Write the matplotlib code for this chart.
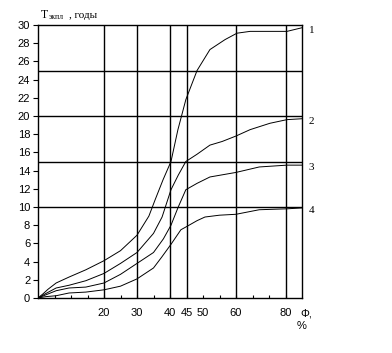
import matplotlib
matplotlib.use("Agg")
import matplotlib.pyplot as plt
import numpy as np

# x axis is a stretched scale: tick value -> evenly spaced position
PHI_KNOTS = [0, 20, 30, 40, 45, 50, 60, 80, 86.7]
POS_KNOTS = [0, 4, 6, 8, 9, 10, 12, 15, 16]

X_TICKS = [20, 30, 40, 45, 50, 60, 80]
X_GRID = [20, 30, 40, 45, 60, 80]
Y_TICKS = list(range(0, 31, 2))
Y_GRID = [10, 15, 20, 25]

# curves: Phi (%) and T (years)
phi_1 = [0, 1.5, 3.0, 5.5, 9.4, 14.5, 20, 25, 30, 33.6, 35.5, 37.9, 40.3, 42.4, 44.8,
         48.2, 52.1, 56.7, 60.4, 65.7, 80.6, 86.7]
t_1 = [0, 0.45, 0.95, 1.65, 2.3, 3.1, 4.1, 5.2, 6.9, 9.0, 10.8, 13.0, 15.0, 18.5, 21.8,
       25.0, 27.3, 28.4, 29.1, 29.3, 29.3, 29.7]

phi_2 = [0, 2.4, 5.5, 9.4, 14.5, 20, 25, 30, 35, 37.6, 40.3, 42.5, 44.8, 48.2, 52.1,
         55.8, 60, 65.7, 73.7, 80.6, 86.7]
t_2 = [0, 0.5, 1.1, 1.4, 1.9, 2.7, 3.8, 5.0, 7.1, 8.9, 11.9, 13.5, 15.0, 15.8, 16.8,
       17.2, 17.8, 18.5, 19.2, 19.6, 19.7]

phi_3 = [0, 2.4, 5.5, 9.4, 14.5, 20, 25, 30, 35, 38, 40.3, 42.5, 44.8, 48.2, 52.1,
         60, 69.4, 80.6, 86.7]
t_3 = [0, 0.35, 0.8, 1.1, 1.2, 1.65, 2.6, 3.8, 5.0, 6.5, 8.0, 10.0, 11.9, 12.6, 13.3,
       13.8, 14.4, 14.6, 14.6]

phi_4 = [0, 2.4, 5.5, 9.4, 14.5, 20, 25, 30, 35, 37.5, 40.3, 43.3, 44.8, 48.2, 50.6,
         55, 60, 69.4, 80.6, 86.7]
t_4 = [0, 0.15, 0.25, 0.55, 0.65, 0.9, 1.3, 2.1, 3.3, 4.5, 5.9, 7.5, 7.8, 8.5, 8.9,
       9.1, 9.2, 9.7, 9.8, 9.9]

curves = [("1", phi_1, t_1), ("2", phi_2, t_2), ("3", phi_3, t_3), ("4", phi_4, t_4)]


def to_pos(phi):
    return np.interp(phi, PHI_KNOTS, POS_KNOTS)


SANS = ["Liberation Sans", "DejaVu Sans"]
SERIF = ["Liberation Serif", "DejaVu Serif"]

fig = plt.figure(figsize=(3.92, 3.53), dpi=100)
ax = fig.add_axes([38 / 392, 1 - 298 / 353, 264 / 392, 273 / 353])

for x in X_GRID:
    ax.axvline(to_pos(x), color="black", linewidth=1.0)
for y in Y_GRID:
    ax.axhline(y, color="black", linewidth=1.0)

for name, phi, t in curves:
    ax.plot(to_pos(phi), t, color="black", linewidth=0.7)
    ax.text(16.4, t[-1] - 0.25, name, family=SERIF, fontsize=8, ha="left", va="center")

ax.set_xlim(0, 16)
ax.set_ylim(0, 30)
ax.set_xticks(to_pos(X_TICKS))
ax.set_xticklabels([str(v) for v in X_TICKS], family=SANS, fontsize=8)
ax.set_xticks([p for p in range(1, 16) if p not in POS_KNOTS[:-1]], minor=True)
ax.set_yticks(Y_TICKS)
ax.set_yticklabels([str(v) for v in Y_TICKS], family=SANS, fontsize=8)

ax.tick_params(axis="x", which="both", direction="in", length=2.5, width=0.8, pad=7)
ax.tick_params(axis="y", direction="out", length=3.6, width=0.8, pad=2)
for s in ax.spines.values():
    s.set_linewidth(1.0)

fig.text(300 / 392, 1 - 313 / 353, "Φ,", family=SANS, fontsize=8, ha="left", va="center")
fig.text(297 / 392, 1 - 326 / 353, "%", family=SANS, fontsize=8, ha="left", va="center")

fig.text(41 / 392, 1 - 18 / 353, "T", family=SERIF, fontsize=8.5, ha="left", va="baseline")
fig.text(49 / 392, 1 - 19 / 353, "экпл", family=SERIF, fontsize=5.5, ha="left", va="baseline")
fig.text(69 / 392, 1 - 18 / 353, ", годы", family=SERIF, fontsize=8, ha="left", va="baseline")

fig.savefig("out.png", dpi=100)
